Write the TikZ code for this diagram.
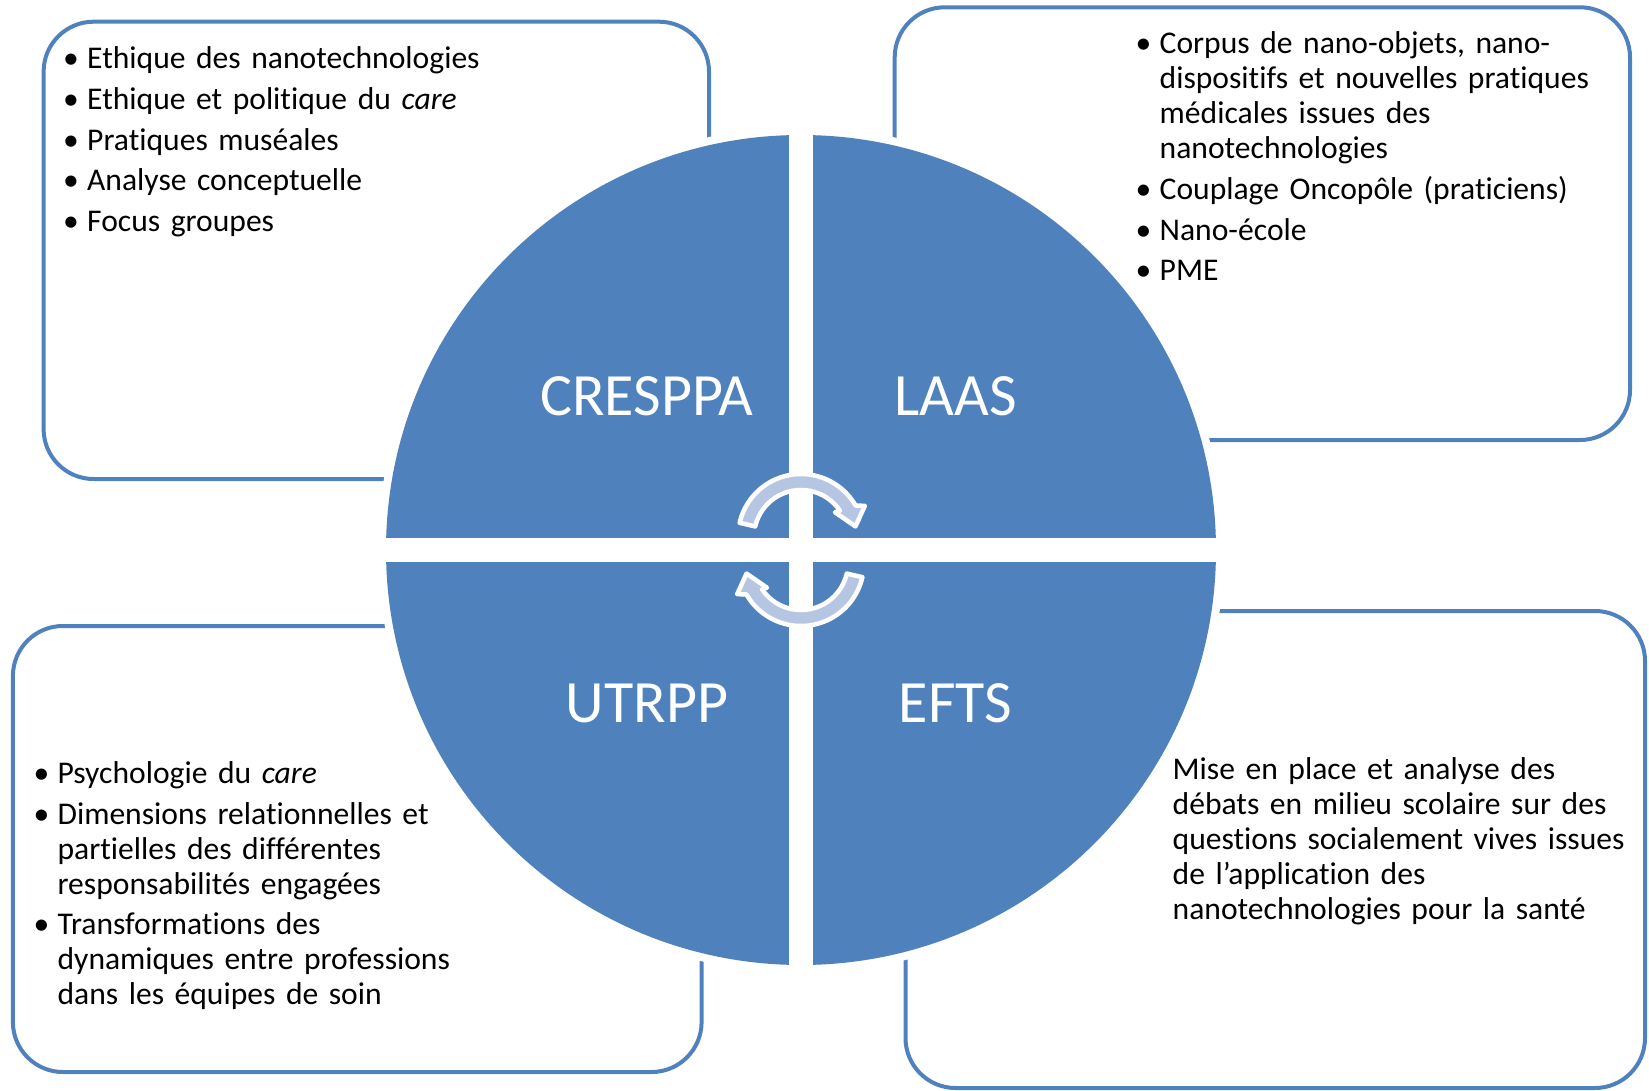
\documentclass[tikz,border=0pt]{standalone}
\usepackage{fontspec}
\setmainfont{Carlito}[Ligatures={NoCommon}]
\usetikzlibrary{calc}

\definecolor{accent}{RGB}{79,129,189}
\definecolor{arrowfill}{RGB}{182,198,226}

% bullet paragraphs with hanging indent
\newcommand\bfirst{\noindent\hangindent=24pt\hangafter=1\makebox[24pt][l]{\textbullet}\rule{0pt}{28pt}}
\newcommand\bitem{\par\noindent\hangindent=24pt\hangafter=1\makebox[24pt][l]{\textbullet}}
\newcommand\firstline{\rule{0pt}{28pt}}

\begin{document}
\begin{tikzpicture}[x=1pt,y=-1pt,
  infobox/.style={draw=accent, line width=4pt, rounded corners=50pt},
  quadlabel/.style={text=white, font=\fontsize{60}{72}\selectfont, inner sep=0pt, anchor=base},
  listbox/.style={anchor=north west, inner sep=0pt, text width=640pt, align=left,
    font=\fontsize{31.6}{35}\selectfont},
  cyclearrow/.style={fill=arrowfill, draw=white, line width=4.5pt, line join=round},
  pics/turnarrow/.style={code={
    \path[cyclearrow] (193:63) arc[start angle=193, end angle=330, radius=63]
      -- (334:71) -- (349:55.5) -- (324:42) -- (326:47)
      arc[start angle=326, end angle=193, radius=47] -- cycle;
  }}]

\useasboundingbox (0,0) rectangle (1649,1091);

% outlined text panels
\draw[infobox] (43.6,21.7) rectangle (709,479);
\draw[infobox] (894.7,7.3) rectangle (1630,440);
\draw[infobox] (12.9,626) rectangle (701.6,1072);
\draw[infobox] (905.5,611) rectangle (1645,1088);

% central disc split in four quadrants
\coordinate (c) at (801,550);
\fill[white] (c) circle[radius=423pt];
\begin{scope}
  \clip (c) circle[radius=423pt];
  \fill[accent] (c) circle[radius=415pt];
  \fill[white] (789,100) rectangle (813,1000);
  \fill[white] (350,538) rectangle (1250,562);
\end{scope}

% quadrant titles
\node[quadlabel] (cresppa) at (647,415) {CRESPPA};
\node[quadlabel] (laas) at (955.5,415) {LAAS};
\node[quadlabel] (utrpp) at (647,722) {UTRPP};
\node[quadlabel] (efts) at (955.5,722) {EFTS};

% circular arrows in the middle
\coordinate (upperc) at (801,537);
\coordinate (lowerc) at (801,563);
\pic at (upperc) {turnarrow};
\pic[rotate=180] at (lowerc) {turnarrow};

% panel texts
\node[listbox] (cresppatext) at (63,40.3) {\setlength\parskip{5.8pt}%
  \bfirst Ethique des nanotechnologies
  \bitem Ethique et politique du \textit{care}
  \bitem Pratiques muséales
  \bitem Analyse conceptuelle
  \bitem Focus groupes\par};

\node[listbox] (laastext) at (1135.5,25.3) {\setlength\parskip{5.8pt}%
  \bfirst Corpus de nano-objets, nano-\newline dispositifs et nouvelles pratiques\newline médicales issues des\newline nanotechnologies
  \bitem Couplage Oncopôle (praticiens)
  \bitem Nano-école
  \bitem PME\par};

\node[listbox] (utrpptext) at (33.4,755.3) {\setlength\parskip{5.6pt}%
  \bfirst Psychologie du \textit{care}
  \bitem Dimensions relationnelles et\newline partielles des différentes\newline responsabilités engagées
  \bitem Transformations des\newline dynamiques entre professions\newline dans les équipes de soin\par};

\node[listbox] (eftstext) at (1172.5,751) {\noindent\firstline Mise en place et analyse des\newline débats en milieu scolaire sur des\newline questions socialement vives issues\newline de l’application des\newline nanotechnologies pour la santé\par};

\end{tikzpicture}
\end{document}
